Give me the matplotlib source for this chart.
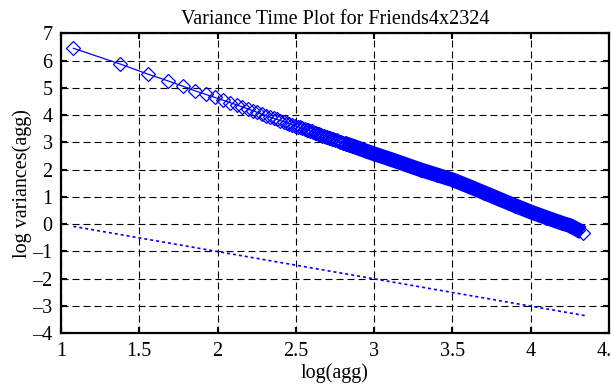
import numpy as np
import matplotlib
matplotlib.use("Agg")
import matplotlib.pyplot as plt
from matplotlib.ticker import FuncFormatter

# log(agg) and log variances(agg)
log_agg = [1.079, 1.380, 1.556, 1.681, 1.778, 1.857, 1.924, 1.982, 2.033,
           2.079, 2.121, 2.158, 2.193, 2.225, 2.255, 2.283, 2.310, 2.334,
           2.358, 2.380, 2.401, 2.422, 2.441, 2.459, 2.477, 2.494, 2.511,
           2.526, 2.542, 2.556, 2.57, 2.58, 2.59, 2.60, 2.61, 2.62, 2.63,
           2.64, 2.65, 2.66, 2.67, 2.68, 2.69, 2.70, 2.71, 2.72, 2.73,
           2.74, 2.75, 2.76, 2.77, 2.78, 2.79, 2.80, 2.82, 2.84, 2.86,
           2.88, 2.90, 2.95, 3.00, 3.10, 3.20, 3.30, 3.40, 3.50, 3.60,
           3.70, 3.80, 3.90, 4.00, 4.10, 4.20, 4.25, 4.30, 4.333]
log_var = [6.45, 5.87, 5.50, 5.26, 5.06, 4.89, 4.76, 4.65, 4.55,
           4.46, 4.38, 4.30, 4.23, 4.16, 4.10, 4.04, 3.98, 3.93,
           3.88, 3.84, 3.80, 3.76, 3.72, 3.68, 3.65, 3.61, 3.58,
           3.55, 3.52, 3.49, 3.46, 3.44, 3.42, 3.40, 3.38, 3.36, 3.34,
           3.31, 3.30, 3.28, 3.25, 3.23, 3.21, 3.19, 3.17, 3.15, 3.13,
           3.11, 3.09, 3.07, 3.05, 3.03, 3.01, 2.99, 2.95, 2.91, 2.87,
           2.83, 2.79, 2.68, 2.58, 2.39, 2.19, 1.99, 1.81, 1.63, 1.40,
           1.16, 0.92, 0.68, 0.45, 0.24, 0.04, -0.05, -0.20, -0.31]

# slope -1 reference line
ref_x = [1.079, 4.346]
ref_y = [-0.08, -3.35]

band_from = 2.80  # overlapping markers look solid from here on

xticks = [1, 1.5, 2, 2.5, 3, 3.5, 4, 4.5]
yticks = [-4, -3, -2, -1, 0, 1, 2, 3, 4, 5, 6, 7]

plt.rcParams['font.family'] = ['Liberation Serif', 'DejaVu Serif']
fs = 14.5

fig = plt.figure(figsize=(6.11, 3.88), dpi=100)
ax = fig.add_axes([61/611, 1-333.3/388, 548/611, 300/388])

blue = '#0000ff'
x = np.array(log_agg)
y = np.array(log_var)
m = x >= band_from
ax.plot(x[m], y[m], color=blue, lw=10.5, solid_capstyle='butt', zorder=3)
ax.plot(x, y, color=blue, lw=0.9, marker='D', ms=7.4, mfc='none',
        mec=blue, mew=0.9, zorder=4)
ax.plot(ref_x, ref_y, color=blue, lw=1.2, linestyle=(0, (1.8, 1.8)), zorder=3)

ax.set_xlim(1, 4.5)
ax.set_ylim(-4, 7)
ax.set_xticks(xticks)
ax.set_yticks(yticks)
fmt = FuncFormatter(lambda v, p: ('%g' % v).replace('-', '\u2013'))
ax.xaxis.set_major_formatter(fmt)
ax.yaxis.set_major_formatter(fmt)
ax.grid(True, color='black', lw=0.8, linestyle=(0, (6.3, 3.6)))
ax.tick_params(direction='in', length=4.5, width=1.5, top=True, right=True,
               pad=6, labelsize=fs)
for s in ax.spines.values():
    s.set_linewidth(1.6)

ax.set_title('Variance Time Plot for Friends4x2324', fontsize=fs, pad=7)
ax.set_xlabel('log(agg)', fontsize=fs, labelpad=2)
ax.set_ylabel('log variances(agg)', fontsize=fs, labelpad=0)

fig.savefig('out.png', dpi=100)
